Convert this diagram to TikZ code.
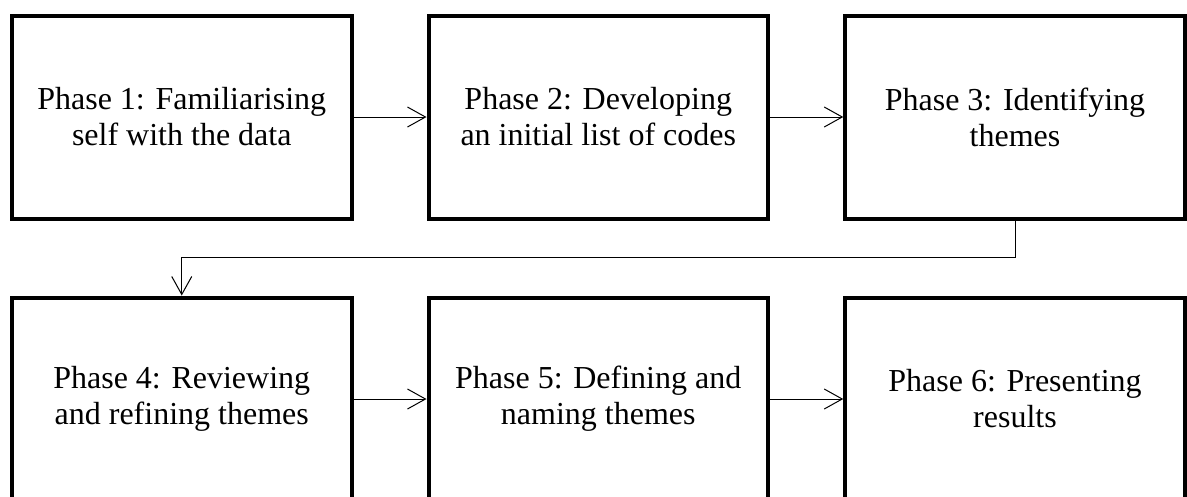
\documentclass[tikz,border=0pt]{standalone}
\usepackage{fontspec}
\setmainfont{Liberation Serif}
\usetikzlibrary{arrows.meta}
\begin{document}
\begin{tikzpicture}[x=1pt,y=-1pt,
  phasebox/.style={draw=black, line width=4pt, minimum width=339.5pt, minimum height=203pt,
    align=center, inner sep=0pt, font=\fontsize{32}{36}\selectfont},
  arr/.style={draw=black, line width=1pt, -{Straight Barb[length=18pt,width=20pt,line width=1pt]}}]
\clip (0,0) rectangle (1187,496);
\fill[white] (0,0) rectangle (1187,496);
\node[phasebox] (b1) at (181.75,117) {Phase 1: Familiarising\\self with the data};
\node[phasebox] (b2) at (598.25,117) {Phase 2: Developing\\an initial list of codes};
\node[phasebox] (b3) at (1015,117) {Phase 3: Identifying\\themes};
\node[phasebox] (b4) at (181.75,399) {Phase 4: Reviewing\\and refining themes};
\node[phasebox] (b5) at (598.25,399) {Phase 5: Defining and\\naming themes};
\node[phasebox] (b6) at (1015,399) {Phase 6: Presenting\\results};
\coordinate (m) at (0,257.7);
\draw[arr] (b1) -- (b2);
\draw[arr] (b2) -- (b3);
\draw[arr] (b4) -- (b5);
\draw[arr] (b5) -- (b6);
\draw[arr] (b3.south) -- (b3.south |- m) -- (b4.north |- m) -- (b4.north);
\end{tikzpicture}
\end{document}
